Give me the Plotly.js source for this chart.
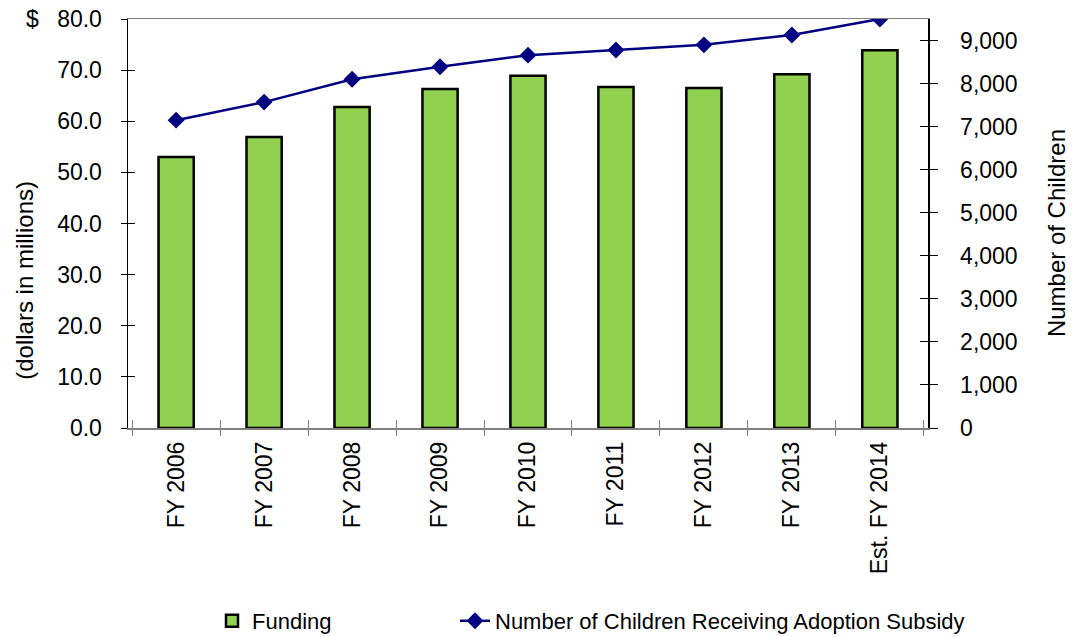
<!DOCTYPE html>
<html><head><meta charset="utf-8">
<script src="https://cdn.plot.ly/plotly-3.0.1.min.js"></script>
<style>body{margin:0;background:#fff}</style>
</head><body>
<div id="chart" style="width:1074px;height:637px"></div>
<script>
const categories = ["FY 2006","FY 2007","FY 2008","FY 2009","FY 2010","FY 2011","FY 2012","FY 2013","Est. FY 2014"];
const funding = [53.0, 56.9, 62.8, 66.3, 68.9, 66.7, 66.5, 69.2, 73.9];
const children = [7150, 7570, 8100, 8390, 8660, 8780, 8900, 9130, 9500];
const leftTicks = [0,10,20,30,40,50,60,70,80];
const rightTicks = [0,1000,2000,3000,4000,5000,6000,7000,8000,9000];

const FONT = "Liberation Sans, Arial, sans-serif";
const FS = 23;
const traces = [
  {type:"bar", name:"Funding", x:categories, y:funding, legend:"legend",
   marker:{color:"#92D050", line:{color:"#000", width:2.5}}, hoverinfo:"skip"},
  {type:"scatter", mode:"lines+markers", name:"Number of Children Receiving Adoption Subsidy",
   x:categories, y:children, yaxis:"y2", legend:"legend2",
   line:{color:"#000080", width:2.5}, marker:{symbol:"diamond", size:13, color:"#000080"}, hoverinfo:"skip"},
  {type:"scatter", x:[categories[0]], y:[0], xaxis:"x2", yaxis:"y3", mode:"markers", marker:{opacity:0}, showlegend:false, hoverinfo:"skip"},
  {type:"scatter", x:[categories[0]], y:[0], yaxis:"y4", mode:"markers", marker:{opacity:0}, showlegend:false, hoverinfo:"skip"}
];
const layout = {
  width:1074, height:637,
  margin:{l:128, r:146, t:19, b:209},
  paper_bgcolor:"#fff", plot_bgcolor:"#fff",
  font:{family:FONT, size:FS, color:"#000"},
  bargap:0.6,
  showlegend:true,
  legend:{orientation:"h", xref:"container", yref:"container", x:212/1074, y:1-621/637,
          xanchor:"left", yanchor:"middle", font:{size:22}, bgcolor:"rgba(0,0,0,0)"},
  legend2:{orientation:"h", xref:"container", yref:"container", x:455/1074, y:1-621/637,
          xanchor:"left", yanchor:"middle", font:{size:22}, bgcolor:"rgba(0,0,0,0)"},
  xaxis:{type:"category", tickson:"boundaries", ticks:"outside", ticklen:6, tickcolor:"#808080",
         tickangle:-90, showline:true, linecolor:"#808080", linewidth:1.5, mirror:true,
         showgrid:false, tickfont:{size:FS}, zeroline:false, automargin:false, ticklabelstandoff:3},
  xaxis2:{type:"category", overlaying:"x", matches:"x", tickson:"boundaries", ticks:"inside", ticklen:8,
          tickcolor:"#808080", showticklabels:false, showline:false, showgrid:false, zeroline:false},
  yaxis:{range:[0,80], tickvals:leftTicks, ticktext:leftTicks.map(v=>v.toFixed(1)),
         ticks:"outside", ticklen:6, tickcolor:"#000", showline:true, linecolor:"#000", linewidth:1.5,
         showgrid:false, zeroline:false, tickfont:{size:FS}, automargin:false, ticklabelstandoff:14},
  yaxis2:{range:[0,9500], tickvals:rightTicks, ticktext:rightTicks.map(v=>v.toLocaleString("en-US")),
          overlaying:"y", side:"right", ticks:"outside", ticklen:8, tickcolor:"#000", automargin:false,
          showline:true, linecolor:"#000", linewidth:1.5, showgrid:false, zeroline:false, tickfont:{size:FS},
          ticklabelstandoff:18},
  yaxis3:{range:[0,80], tickvals:leftTicks, overlaying:"y", side:"left", ticks:"inside", ticklen:7,
          tickcolor:"#000", showticklabels:false, showline:false, showgrid:false, zeroline:false},
  yaxis4:{range:[0,9500], tickvals:rightTicks, overlaying:"y", side:"right", ticks:"inside", ticklen:8,
          tickcolor:"#000", showticklabels:false, showline:false, showgrid:false, zeroline:false},
  annotations:[
    {text:"$", xref:"paper", yref:"paper", x:-0.12, y:1, xanchor:"center", yanchor:"middle", showarrow:false, font:{size:23}},
    {text:"(dollars in millions)", xref:"paper", yref:"paper", x:-0.129, y:0.362, textangle:-90,
     xanchor:"center", yanchor:"middle", showarrow:false, font:{size:24}},
    {text:"Number of Children", xref:"paper", yref:"paper", x:1.1615, y:0.477, textangle:-90,
     xanchor:"center", yanchor:"middle", showarrow:false, font:{size:24}}
  ]
};
Plotly.newPlot("chart", traces, layout, {staticPlot:true});
</script>
</body></html>
